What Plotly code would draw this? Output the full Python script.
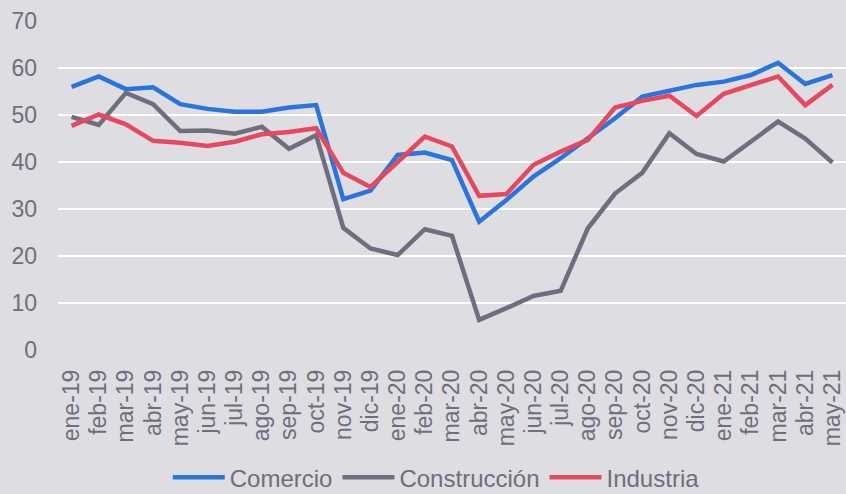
import plotly.graph_objects as go

months = ["ene-19","feb-19","mar-19","abr-19","may-19","jun-19","jul-19","ago-19","sep-19","oct-19",
          "nov-19","dic-19","ene-20","feb-20","mar-20","abr-20","may-20","jun-20","jul-20","ago-20",
          "sep-20","oct-20","nov-20","dic-20","ene-21","feb-21","mar-21","abr-21","may-21"]

comercio = [56.0, 58.2, 55.5, 55.9, 52.3, 51.3, 50.7, 50.7, 51.6, 52.1,
            32.1, 33.9, 41.5, 42.0, 40.4, 27.3, 31.9, 36.9, 40.8, 45.0,
            49.3, 53.9, 55.2, 56.4, 57.1, 58.5, 61.1, 56.6, 58.5]

construccion = [49.6, 47.9, 54.7, 52.3, 46.6, 46.7, 46.0, 47.5, 42.8, 45.7,
                26.0, 21.6, 20.2, 25.7, 24.3, 6.4, 8.9, 11.5, 12.6, 25.9,
                33.3, 37.7, 46.1, 41.7, 40.1, 44.3, 48.6, 45.0, 39.9]

industria = [47.7, 50.1, 48.0, 44.5, 44.1, 43.4, 44.3, 45.9, 46.4, 47.2,
             37.7, 34.7, 40.0, 45.4, 43.3, 32.8, 33.2, 39.4, 42.2, 44.7,
             51.6, 53.0, 54.1, 49.8, 54.5, 56.4, 58.2, 52.1, 56.4]

y_ticks = [0, 10, 20, 30, 40, 50, 60, 70]

series = [
    ("Comercio", comercio, "#2A74E0"),
    ("Construcción", construccion, "#6F6E7F"),
    ("Industria", industria, "#E8485C"),
]

fig = go.Figure()
for name, vals, col in series:
    fig.add_trace(go.Scatter(x=months, y=vals, name=name, mode="lines",
                             line=dict(color=col, width=4.5)))

font_family = "Liberation Sans, Arial, sans-serif"
text_col = "#6F6E7D"

fig.update_layout(
    width=846, height=494,
    paper_bgcolor="#DEDDE1", plot_bgcolor="#DEDDE1",
    margin=dict(l=58, r=0, t=21, b=144, autoexpand=False),
    font=dict(family=font_family, size=23, color=text_col),
    showlegend=True,
    legend=dict(orientation="h", x=0.48, xanchor="center", y=-0.388, yanchor="middle",
                font=dict(size=24, color=text_col), bgcolor="rgba(0,0,0,0)",
                itemwidth=52, tracegroupgap=0),
    xaxis=dict(type="category", tickangle=-90, showgrid=False, zeroline=False,
               showline=False, ticks="", tickfont=dict(size=23, color=text_col),
               tickmode="array", tickvals=months, ticktext=months,
               range=[-0.5, len(months) - 0.5], automargin=False,
               ticklabelstandoff=14),
    yaxis=dict(range=[0, 70], tickvals=y_ticks, showgrid=True, gridcolor="#FFFFFF",
               gridwidth=2, zeroline=False, showline=False, ticks="",
               tickfont=dict(size=23, color=text_col), ticklabelstandoff=20,
               automargin=False),
)

fig.write_html("out.html", config={"displayModeBar": False},
               post_script="document.body.style.margin='0';")
